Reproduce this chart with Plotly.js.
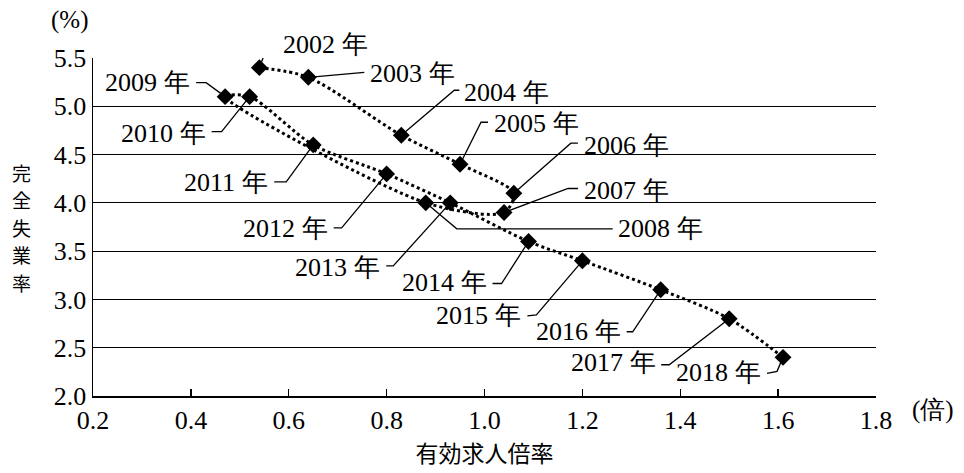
<!DOCTYPE html>
<html>
<head>
<meta charset="utf-8">
<script src="https://cdn.plot.ly/plotly-3.0.1.min.js"></script>
<style>html,body{margin:0;padding:0;background:#fff;}</style>
</head>
<body>
<div id="chart" style="width:964px;height:473px;"></div>
<script>
// Data
const years = ["2002", "2003", "2004", "2005", "2006", "2007", "2008", "2009", "2010",
               "2011", "2012", "2013", "2014", "2015", "2016", "2017", "2018"];
const jobRatio = [0.54, 0.64, 0.83, 0.95, 1.06, 1.04, 0.88, 0.47, 0.52,
                  0.65, 0.80, 0.93, 1.09, 1.20, 1.36, 1.50, 1.61];
const unemployment = [5.4, 5.3, 4.7, 4.4, 4.1, 3.9, 4.0, 5.1, 5.1,
                      4.6, 4.3, 4.0, 3.6, 3.4, 3.1, 2.8, 2.4];
const yearSuffix = " 年";
const xTitle = "有効求人倍率";
const yTitle = "完全失業率";
const xUnit = "(倍)";
const yUnit = "(%)";

// Label leader geometry (pixel offsets from each point; y down positive)
// [bendDx, bendDy, endDx, endDy, textDx, textDy, side]
const leaders = [
  [9, -24, 18, -24, 22, -23, "left"],
  [56, -5, 56, -5, 60, -4, "left"],
  [53, -45, 58, -45, 61, -43, "left"],
  [21, -42, 28, -42, 32, -41, "left"],
  [57, -50, 64, -50, 68, -48, "left"],
  [64, -24, 74, -24, 78, -22, "left"],
  [31, 26, 187, 26, 190, 26, "left"],
  [-19, -14, -29, -14, -33, -14, "right"],
  [-28, 35, -38, 35, -42, 37, "right"],
  [-27, 37, -39, 37, -43, 38, "right"],
  [-45, 54, -53, 54, -57, 55, "right"],
  [-57, 63, -64, 63, -68, 65, "right"],
  [-27, 42, -36, 42, -40, 41, "right"],
  [-46, 54, -55, 55, -59, 55, "right"],
  [-28, 42, -34, 42, -38, 42, "right"],
  [-60, 46, -68, 46, -71, 44, "right"],
  [-6, 14, -16, 16, -20, 15, "right"]
];

const FONT = "serif";
const CJK = "Noto Sans CJK JP";

const shapes = [];
const annotations = [];
years.forEach((yr, i) => {
  const L = leaders[i];
  shapes.push({
    type: "path", xref: "x", yref: "y",
    xsizemode: "pixel", ysizemode: "pixel",
    xanchor: jobRatio[i], yanchor: unemployment[i],
    path: `M0,0 L${L[0]},${-L[1]} L${L[2]},${-L[3]}`,
    line: {color: "#000", width: 1.3},
    layer: "below"
  });
  annotations.push({
    x: jobRatio[i], y: unemployment[i], xref: "x", yref: "y",
    xshift: L[4], yshift: -L[5],
    xanchor: L[6], yanchor: "middle",
    text: yr + yearSuffix, showarrow: false,
    font: {family: FONT, size: 26}
  });
});

// vertical y-axis title, one character per annotation
yTitle.split("").forEach((ch, i) => {
  annotations.push({
    xref: "paper", yref: "paper", x: -0.091, y: (396 - (172 + i * 27.5)) / 338,
    xanchor: "center", yanchor: "middle",
    text: ch, showarrow: false,
    font: {family: CJK, size: 19}
  });
});
annotations.push({
  xref: "paper", yref: "paper", x: -0.004, y: 1.112,
  xanchor: "right", yanchor: "middle",
  text: yUnit, showarrow: false,
  font: {family: FONT, size: 25}
});
annotations.push({
  xref: "paper", yref: "paper", x: 1.044, y: -0.041,
  xanchor: "left", yanchor: "middle",
  text: xUnit, showarrow: false,
  font: {family: FONT, size: 25}
});

const trace = {
  x: jobRatio, y: unemployment, type: "scatter", mode: "lines+markers",
  line: {color: "#000", width: 3, dash: "dot", shape: "spline", smoothing: 0.8},
  marker: {symbol: "diamond", size: 13, color: "#000"},
  hoverinfo: "skip"
};

const layout = {
  width: 964, height: 473,
  margin: {l: 93, r: 88, t: 58, b: 77},
  paper_bgcolor: "#fff", plot_bgcolor: "#fff",
  showlegend: false,
  font: {family: FONT, color: "#000", size: 26},
  xaxis: {
    range: [0.2, 1.8], dtick: 0.2, tick0: 0.2, tickformat: ".1f",
    showgrid: false, zeroline: false,
    showline: true, linecolor: "#000", linewidth: 1.5,
    ticks: "inside", ticklen: 7, tickwidth: 1.3, tickcolor: "#000",
    tickfont: {family: FONT, size: 26},
    title: {text: xTitle, font: {family: CJK, size: 23}, standoff: 12}
  },
  yaxis: {
    range: [2.0, 5.5], dtick: 0.5, tick0: 2.0, tickformat: ".1f",
    showgrid: true, gridcolor: "#000", gridwidth: 1.2, zeroline: false,
    showline: true, linecolor: "#000", linewidth: 1.5,
    ticks: "", ticklen: 0,
    tickfont: {family: FONT, size: 26}
  },
  shapes: shapes,
  annotations: annotations
};

Plotly.newPlot("chart", [trace], layout, {staticPlot: true, displayModeBar: false});
</script>
</body>
</html>
